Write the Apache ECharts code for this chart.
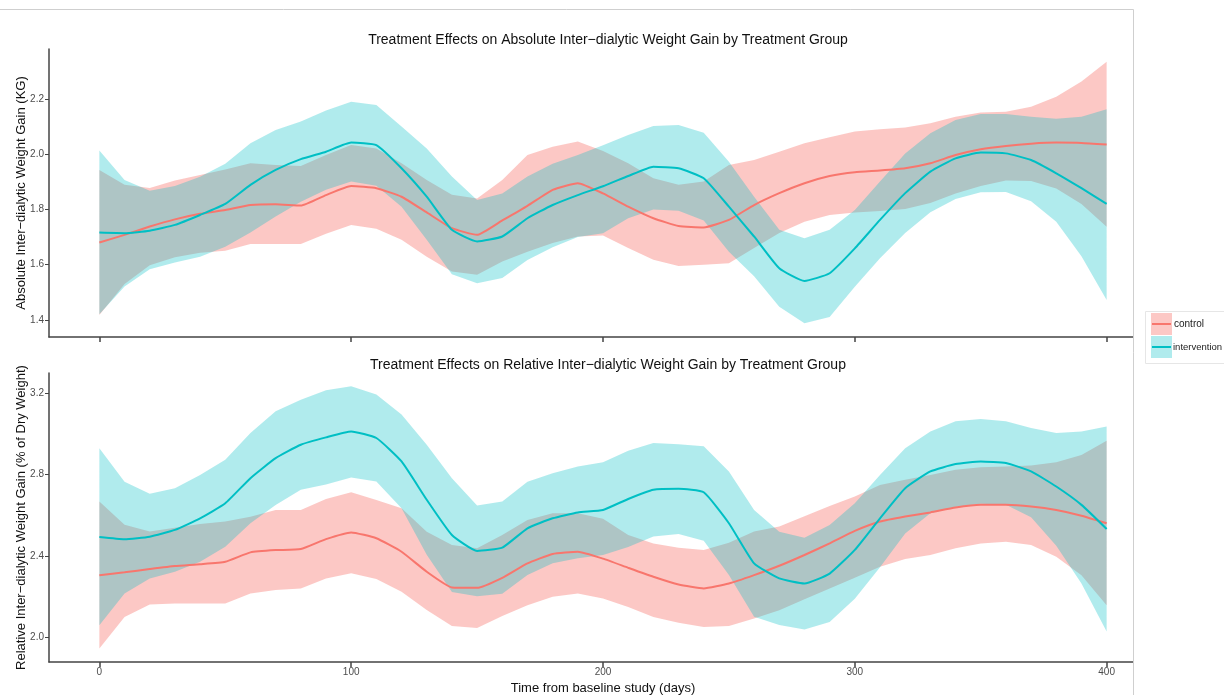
<!DOCTYPE html>
<html>
<head>
<meta charset="utf-8">
<style>
  html, body { margin: 0; padding: 0; background: #fff; }
  #chart { width: 1224px; height: 695px; }
</style>
<script src="https://cdn.jsdelivr.net/npm/echarts@6/dist/echarts.min.js"></script>
</head>
<body>
<div id="chart"></div>
<script>
// days from baseline
const days = [0,10,20,30,40,50,60,70,80,90,100,110,120,130,140,150,160,170,180,190,200,
  210,220,230,240,250,260,270,280,290,300,310,320,330,340,350,360,370,380,390,400];

const xTicks = [0, 100, 200, 300, 400];
const absTicks = [1.4, 1.6, 1.8, 2.0, 2.2];
const relTicks = [2.0, 2.4, 2.8, 3.2];

// absolute IDWG (KG)
const ctrlAbsMean = [1.680,1.708,1.738,1.764,1.784,1.798,1.816,1.819,1.814,1.852,1.885,1.877,1.846,1.789,1.732,1.708,1.760,1.813,1.871,1.895,1.858,
  1.810,1.768,1.740,1.735,1.762,1.816,1.859,1.895,1.921,1.935,1.941,1.949,1.967,1.997,2.018,2.030,2.038,2.042,2.041,2.035];
const ctrlAbsUpper = [1.943,1.889,1.878,1.905,1.925,1.945,1.967,1.961,1.957,1.997,2.033,2.021,1.967,1.907,1.853,1.840,1.907,1.997,2.027,2.046,2.012,
  1.967,1.913,1.889,1.901,1.961,1.979,2.009,2.040,2.061,2.082,2.090,2.097,2.112,2.136,2.151,2.154,2.172,2.208,2.263,2.335];
const ctrlAbsLower = [1.418,1.530,1.598,1.627,1.643,1.650,1.675,1.675,1.675,1.712,1.744,1.730,1.690,1.629,1.575,1.563,1.611,1.647,1.678,1.702,1.706,
  1.660,1.618,1.595,1.600,1.605,1.660,1.715,1.755,1.780,1.789,1.794,1.802,1.823,1.858,1.885,1.905,1.903,1.876,1.820,1.737];

const intAbsMean = [1.716,1.714,1.723,1.744,1.780,1.820,1.889,1.943,1.982,2.009,2.042,2.033,1.949,1.846,1.726,1.684,1.702,1.768,1.816,1.852,1.884,
  1.921,1.955,1.949,1.913,1.810,1.702,1.587,1.541,1.569,1.659,1.762,1.859,1.937,1.985,2.006,2.003,1.979,1.931,1.877,1.820];
const intAbsUpper = [2.013,1.907,1.868,1.885,1.918,1.965,2.040,2.088,2.118,2.158,2.190,2.178,2.100,2.021,1.919,1.834,1.858,1.919,1.965,1.997,2.032,
  2.070,2.102,2.106,2.078,1.973,1.846,1.726,1.696,1.726,1.798,1.901,2.003,2.076,2.124,2.146,2.146,2.136,2.128,2.136,2.163];
const intAbsLower = [1.420,1.521,1.583,1.608,1.629,1.665,1.716,1.774,1.828,1.871,1.901,1.886,1.810,1.690,1.565,1.533,1.552,1.617,1.663,1.700,1.714,
  1.768,1.800,1.795,1.760,1.647,1.558,1.448,1.388,1.410,1.520,1.623,1.715,1.790,1.838,1.862,1.863,1.830,1.755,1.630,1.472];

// relative IDWG (% of dry weight)
const ctrlRelMean = [2.306,2.320,2.336,2.351,2.360,2.372,2.418,2.429,2.434,2.483,2.516,2.487,2.421,2.323,2.246,2.244,2.293,2.364,2.410,2.421,2.387,
  2.342,2.298,2.260,2.241,2.265,2.306,2.352,2.405,2.462,2.523,2.569,2.594,2.614,2.638,2.651,2.651,2.643,2.626,2.598,2.561];
const ctrlRelUpper = [2.667,2.553,2.520,2.539,2.557,2.569,2.593,2.626,2.626,2.680,2.713,2.675,2.634,2.519,2.454,2.438,2.503,2.577,2.610,2.610,2.583,
  2.503,2.462,2.441,2.429,2.465,2.520,2.545,2.595,2.645,2.692,2.749,2.774,2.798,2.823,2.836,2.839,2.844,2.860,2.896,2.965];
const ctrlRelLower = [1.946,2.101,2.162,2.167,2.167,2.167,2.216,2.233,2.241,2.290,2.315,2.287,2.225,2.135,2.057,2.047,2.106,2.159,2.200,2.216,2.191,
  2.150,2.101,2.073,2.052,2.057,2.093,2.134,2.188,2.241,2.293,2.347,2.385,2.405,2.438,2.462,2.470,2.454,2.397,2.306,2.159];

const intRelMean = [2.493,2.482,2.495,2.528,2.585,2.659,2.782,2.880,2.946,2.982,3.011,2.979,2.864,2.676,2.503,2.425,2.441,2.536,2.585,2.614,2.626,
  2.680,2.725,2.730,2.713,2.561,2.364,2.290,2.265,2.314,2.430,2.585,2.733,2.815,2.851,2.864,2.856,2.815,2.741,2.651,2.533];
const intRelUpper = [2.929,2.765,2.705,2.733,2.798,2.872,3.003,3.110,3.167,3.213,3.233,3.192,3.094,2.946,2.782,2.648,2.667,2.765,2.806,2.839,2.860,
  2.916,2.954,2.949,2.938,2.815,2.626,2.519,2.490,2.552,2.659,2.798,2.929,3.011,3.061,3.072,3.061,3.028,3.003,3.011,3.036];
const intRelLower = [2.060,2.216,2.290,2.323,2.372,2.446,2.561,2.650,2.725,2.751,2.785,2.766,2.634,2.406,2.224,2.202,2.215,2.307,2.364,2.389,2.405,
  2.444,2.496,2.508,2.475,2.307,2.102,2.061,2.040,2.076,2.190,2.345,2.510,2.610,2.641,2.656,2.651,2.590,2.450,2.265,2.030];

const RED = '#F8766D';
const TEAL = '#00BFC4';
const RED_FILL = 'rgba(248,118,109,0.4)';
const TEAL_FILL = 'rgba(0,191,196,0.31)';
const FONT = 'Liberation Sans, Arial, sans-serif';

const chart = echarts.init(document.getElementById('chart'));

// confidence ribbon drawn as one polygon through the axis scales
const ribbon = (axis, lower, upper, fill) => ({
  type: 'custom', xAxisIndex: axis, yAxisIndex: axis, silent: true,
  data: days.map((d, i) => [d, lower[i], upper[i]]),
  encode: { x: 0, y: [1, 2] },
  renderItem: (params, api) => {
    if (params.dataIndex !== 0) return;
    const pts = [];
    for (let i = 0; i < days.length; i++) pts.push(api.coord([days[i], upper[i]]));
    for (let i = days.length - 1; i >= 0; i--) pts.push(api.coord([days[i], lower[i]]));
    return { type: 'polygon', shape: { points: pts }, style: { fill: fill } };
  }
});

const meanLine = (axis, vals, color) => ({
  type: 'line', xAxisIndex: axis, yAxisIndex: axis,
  data: days.map((d, i) => [d, vals[i]]),
  symbol: 'none', smooth: 0.15, silent: true,
  lineStyle: { color: color, width: 2 }
});

const xAxisBase = (idx, showLabels) => ({
  type: 'value', gridIndex: idx, min: -20, max: 420,
  splitLine: { show: false },
  axisLine: { show: true, onZero: false, lineStyle: { color: '#444', width: 1.5 } },
  axisTick: { show: true, length: 5, customValues: xTicks, lineStyle: { color: '#444', width: 1.5 } },
  axisLabel: { show: showLabels, customValues: xTicks, color: '#4d4d4d', fontSize: 10, fontFamily: FONT, margin: 5 }
});

const yAxisBase = (idx, min, max, ticks, name) => ({
  type: 'value', gridIndex: idx, min: min, max: max,
  name: name, nameLocation: 'middle', nameRotate: 90, nameGap: 21, nameMoveOverlap: false,
  nameTextStyle: { color: '#111', fontSize: 13, fontFamily: FONT },
  splitLine: { show: false },
  axisLine: { show: true, onZero: false, lineStyle: { color: '#444', width: 1.5 } },
  axisTick: { show: true, length: 4, customValues: ticks, lineStyle: { color: '#444' } },
  axisLabel: {
    customValues: ticks, color: '#4d4d4d', fontSize: 10, fontFamily: FONT, margin: 5,
    formatter: v => v.toFixed(1)
  }
});

const option = {
  animation: false,
  backgroundColor: '#fff',
  title: [
    {
      text: 'Treatment Effects on Absolute Inter\u2212dialytic Weight Gain by Treatment Group',
      left: 603, top: 28, textAlign: 'center',
      textStyle: { color: '#111', fontSize: 14, fontWeight: 'normal', fontFamily: FONT }
    },
    {
      text: 'Treatment Effects on Relative Inter\u2212dialytic Weight Gain by Treatment Group',
      left: 603, top: 353, textAlign: 'center',
      textStyle: { color: '#111', fontSize: 14, fontWeight: 'normal', fontFamily: FONT }
    }
  ],
  grid: [
    { left: 49, top: 49, width: 1108, height: 288, outerBoundsMode: 'none', containLabel: false },
    { left: 49, top: 373, width: 1108, height: 289, outerBoundsMode: 'none', containLabel: false }
  ],
  xAxis: [
    xAxisBase(0, false),
    Object.assign(xAxisBase(1, true), {
      name: 'Time from baseline study (days)', nameLocation: 'middle', nameGap: 20,
      nameTextStyle: { color: '#111', fontSize: 13, fontFamily: FONT }
    })
  ],
  yAxis: [
    yAxisBase(0, 1.338, 2.381, absTicks, 'Absolute Inter\u2212dialytic Weight Gain (KG)'),
    yAxisBase(1, 1.88, 3.298, relTicks, 'Relative Inter\u2212dialytic Weight Gain (% of Dry Weight)')
  ],
  series: [
    ribbon(0, ctrlAbsLower, ctrlAbsUpper, RED_FILL),
    meanLine(0, ctrlAbsMean, RED),
    ribbon(0, intAbsLower, intAbsUpper, TEAL_FILL),
    meanLine(0, intAbsMean, TEAL),
    ribbon(1, ctrlRelLower, ctrlRelUpper, RED_FILL),
    meanLine(1, ctrlRelMean, RED),
    ribbon(1, intRelLower, intRelUpper, TEAL_FILL),
    meanLine(1, intRelMean, TEAL)
  ],
  graphic: [
    // page frame cuts the panels at the right
    { type: 'rect', z: 100, shape: { x: 1134, y: 0, width: 90, height: 695 }, style: { fill: '#fff' } },
    { type: 'line', z: 101, shape: { x1: 0, y1: 9.5, x2: 1133.5, y2: 9.5 }, style: { stroke: '#cfcfcf', lineWidth: 1 } },
    { type: 'line', z: 101, shape: { x1: 1133.5, y1: 9.5, x2: 1133.5, y2: 695 }, style: { stroke: '#cfcfcf', lineWidth: 1 } },
    // legend
    { type: 'rect', z: 102, shape: { x: 1145.5, y: 311.5, width: 90, height: 52 }, style: { fill: '#fff', stroke: '#e6e6e6', lineWidth: 1 } },
    { type: 'rect', z: 103, shape: { x: 1151, y: 313, width: 21, height: 22 }, style: { fill: RED_FILL } },
    { type: 'line', z: 104, shape: { x1: 1152, y1: 324, x2: 1171, y2: 324 }, style: { stroke: RED, lineWidth: 2 } },
    { type: 'rect', z: 103, shape: { x: 1151, y: 336, width: 21, height: 22 }, style: { fill: TEAL_FILL } },
    { type: 'line', z: 104, shape: { x1: 1152, y1: 347, x2: 1171, y2: 347 }, style: { stroke: TEAL, lineWidth: 2 } },
    { type: 'text', z: 104, x: 1174, y: 324, style: { text: 'control', fill: '#222', font: '10px ' + FONT, textVerticalAlign: 'middle' } },
    { type: 'text', z: 104, x: 1173, y: 347, style: { text: 'intervention', fill: '#222', font: '9.5px ' + FONT, textVerticalAlign: 'middle' } }
  ]
};

chart.setOption(option);
</script>
</body>
</html>
